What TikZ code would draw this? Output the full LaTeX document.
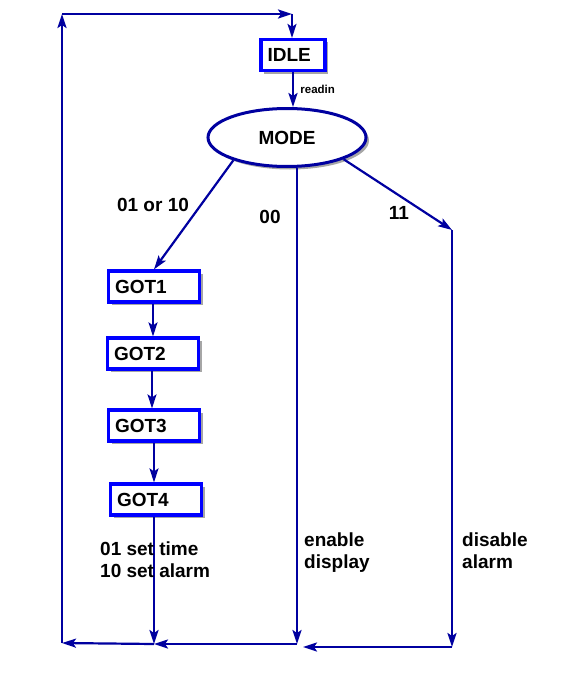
\documentclass[tikz,border=0pt]{standalone}
\usepackage{fontspec}
\setmainfont{Liberation Sans}
\usetikzlibrary{arrows.meta,shapes.geometric,shadows}

\definecolor{wirenavy}{RGB}{0,0,160}
\definecolor{boxblue}{RGB}{0,0,255}

\begin{document}
\begin{tikzpicture}[x=1pt,y=-1pt,
        big/.style={font=\fontsize{19}{22}\selectfont\bfseries},
        state node/.style={rectangle,draw=boxblue,line width=3.2pt,fill=white,big,
          inner xsep=6.5pt,inner ysep=0pt,minimum height=31pt,text width=#1,align=left,
          general shadow={fill=black!35,shadow xshift=3pt,shadow yshift=-3pt}},
        state node/.default=78pt,
        mode node/.style={ellipse,draw=wirenavy,line width=3pt,fill=white,big,
          minimum width=158pt,minimum height=58pt,
          general shadow={fill=black!35,shadow xshift=3pt,shadow yshift=-3pt}},
        wire/.style={draw=wirenavy,line width=2.2pt,line join=round},
        go/.style={-{Stealth[length=14pt,width=9pt,inset=3pt]}},
        tag/.style={big,inner sep=0pt,align=left}]
        \useasboundingbox (0,0) rectangle (585,693);

        \node[state node=51pt] (idle) at (293,55) {IDLE};
        \node[mode node] (mode) at (287,137.5) {MODE};
        \node[state node] (got1) at (154,286.5) {GOT1};
        \node[state node] (got2) at (153,353.5) {GOT2};
        \node[state node] (got3) at (154,425.5) {GOT3};
        \node[state node] (got4) at (156,499.5) {GOT4};

        % corners of the return loop
        \coordinate (tl) at (62,14);
        \coordinate (tr) at (292,14);
        \coordinate (bl) at (62,643);
        \coordinate (bgot) at (154,644);
        \coordinate (b00) at (297,644);
        \coordinate (c11) at (452,230);
        \coordinate (b11) at (452,647);

        \path[wire]
        (idle.south) edge[go] node[right,font=\fontsize{11.5}{13}\selectfont\bfseries,xshift=3pt] {readin} (idle.south |- mode.north)
        (mode.203) edge[go] (got1.north)
        (b00 |- mode.south) edge[go] (b00)
        (mode.339) edge[go] (c11)
        (c11) edge[go] (b11)
        (got1.south -| 153,0) edge[go] (got2.north -| 153,0)
        (got2.south -| 152,0) edge[go] (got3.north -| 152,0)
        (got3.south -| 154,0) edge[go] (got4.north -| 154,0)
        (got4.south -| bgot) edge[go] (bgot)
        (b11) edge[go] (b11 -| 303,0)
        (b00) edge[go] (bgot)
        (bgot) edge[go] (bl)
        (bl) edge[go] (tl)
        (tl) edge[go] (tr)
        (tr) edge[go] (tr |- idle.north)
        ;

        \node[tag] (l0110) at (153,205) {01 or 10};
        \node[tag] (l00) at (270,217) {00};
        \node[tag] (l11) at (399,213) {11};
        \node[tag,anchor=north west] (lgot) at (100,542) {01 set time\\10 set alarm};
        \node[tag,anchor=north west] (len) at (304,533) {enable\\display};
        \node[tag,anchor=north west] (ldis) at (462,533) {disable\\alarm};
        \end{tikzpicture}
\end{document}
